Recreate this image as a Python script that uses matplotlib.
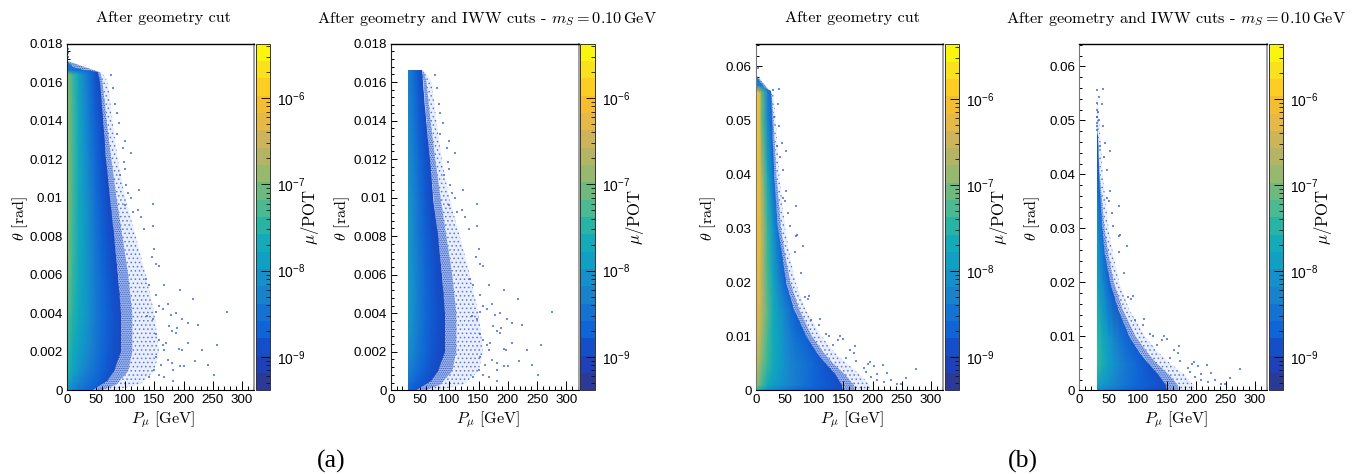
import matplotlib

matplotlib.use("Agg")
import matplotlib.pyplot as plt
import numpy as np
from matplotlib.cm import ScalarMappable
from matplotlib.colors import LinearSegmentedColormap, ListedColormap, LogNorm
from matplotlib.patches import Polygon
from matplotlib.ticker import FixedLocator, LogLocator, NullFormatter

plt.rcParams["font.family"] = ["Liberation Sans", "DejaVu Sans"]
plt.rcParams["mathtext.fontset"] = "cm"
plt.rcParams["hatch.linewidth"] = 0.6

W, H = 1357, 474

# z scale: 20 colour levels, bottom to top
band_colors = [
    (42, 58, 150), (30, 65, 185), (20, 78, 200), (15, 100, 215), (20, 115, 210),
    (25, 130, 205), (20, 145, 205), (15, 160, 195), (20, 170, 185), (40, 180, 165),
    (75, 185, 145), (110, 185, 125), (150, 185, 110), (180, 180, 100), (205, 180, 90),
    (230, 185, 70), (245, 190, 50), (253, 205, 35), (250, 225, 30), (250, 245, 15),
]
z_min, z_max = 4.1e-10, 4.3e-6

# heat values are colour levels read against the colour bar
p_a1 = [0, 5, 10, 20, 30, 40, 50, 60, 70, 80, 100, 120, 140]
theta_a1 = [0, .0004, .001, .002, .004, .006, .008, .010, .012, .014, .016, .0164, .0166, .0172]
level_a1 = [
    [6, 5.5, 5, 4, 3.5, 3, 2.5, 2, 1.5, 1.2, 1, 1, 1],
    [8, 7, 6, 5, 4.2, 3.5, 3, 2.2, 1.8, 1.5, 1, 1, 1],
    [9.5, 8.5, 7.5, 6.2, 5.2, 4.3, 3.5, 2.8, 2.2, 1.8, 1, 1, 1],
    [10, 9, 8, 7, 6, 5, 4, 3.2, 2.5, 2, 1, 1, 1],
    [11, 10, 9, 7.8, 6.8, 5.5, 4.3, 3.4, 2.7, 2.1, 1, 1, 1],
    [12, 10.8, 9.5, 8, 6.8, 5.5, 4.2, 3.2, 2.4, 1.8, 1, 1, 1],
    [12.5, 11, 9.8, 8, 6.8, 5.2, 3.9, 2.8, 2, 1.5, 1, 1, 1],
    [12.5, 11.2, 10, 8, 6.5, 5, 3.5, 2.4, 1.6, 1, 1, 1, 1],
    [12.5, 11.2, 10, 8, 6.2, 4.5, 3, 2, 1.2, 1, 1, 1, 1],
    [12.5, 11.2, 10, 7.8, 5.8, 4, 2.6, 1.5, 1, 1, 1, 1, 1],
    [12.5, 11, 9.8, 7.5, 5.3, 3.6, 2, 1.2, 1, 1, 1, 1, 1],
    [12.5, 11, 9.8, 7.5, 5.3, 3.6, 2, 1.2, 1, 1, 1, 1, 1],
    [5, 4.5, 4.2, 3.8, 3.5, 3, 2, 1, 1, 1, 1, 1, 1],
    [4, 4, 4, 4, 3, 3, 2, 1, 1, 1, 1, 1, 1],
]
p_a2 = [30, 40, 50, 60, 70, 80, 100, 120, 140]
theta_a2 = [0, .0004, .001, .002, .004, .006, .008, .010, .012, .014, .016, .0166]
level_a2 = [
    [3, 2.5, 2, 1.5, 1.2, 1, 1, 1, 1],
    [4, 3, 2.5, 2, 1.5, 1.2, 1, 1, 1],
    [5, 4, 3.2, 2.5, 2, 1.5, 1, 1, 1],
    [6, 4.8, 3.8, 3, 2.2, 1.8, 1, 1, 1],
    [7, 5.5, 4.2, 3.2, 2.5, 2, 1, 1, 1],
    [7, 5.5, 4.2, 3, 2.3, 1.6, 1, 1, 1],
    [6.8, 5.2, 3.8, 2.7, 2, 1.5, 1, 1, 1],
    [6.5, 5, 3.5, 2.3, 1.5, 1, 1, 1, 1],
    [6, 4.5, 3, 2, 1.2, 1, 1, 1, 1],
    [5.5, 4, 2.5, 1.5, 1, 1, 1, 1, 1],
    [5, 3.5, 2, 1.2, 1, 1, 1, 1, 1],
    [5, 3.5, 2, 1.2, 1, 1, 1, 1, 1],
]
p_b1 = [0, 5, 10, 20, 30, 40, 50, 60, 70, 80, 100, 120, 150, 190]
theta_b1 = [0, .001, .005, .010, .015, .020, .030, .040, .050, .0552, .0565, .059]
level_b1 = [
    [9, 8, 7, 5.5, 5, 4.5, 4, 3.5, 3, 2.8, 2.5, 2, 1.5, 1],
    [12.5, 11.5, 10, 8, 7, 6.2, 5.5, 5, 4.5, 4, 3, 2.5, 1.5, 1],
    [14.5, 13, 11.5, 9.5, 8, 7, 6, 5, 4.5, 4, 3, 2, 1.5, 1],
    [15.5, 14.5, 12.5, 10, 8, 7, 5.5, 4.5, 3.5, 3, 2, 1.5, 1, 1],
    [16, 15, 13.5, 10.5, 8, 6.5, 5, 3.5, 2.5, 2, 1.5, 1, 1, 1],
    [16.5, 15.5, 13.5, 10, 7.5, 5, 3, 1.5, 1, 1, 1, 1, 1, 1],
    [17, 16, 14, 9.5, 6, 3, 1, 1, 1, 1, 1, 1, 1, 1],
    [17.5, 16, 13, 8, 3.5, 1.5, 1, 1, 1, 1, 1, 1, 1, 1],
    [17.5, 16.5, 11, 5.5, 2, 1, 1, 1, 1, 1, 1, 1, 1, 1],
    [17.5, 16.5, 11, 5, 2, 1, 1, 1, 1, 1, 1, 1, 1, 1],
    [5, 5, 4.5, 4, 2, 1, 1, 1, 1, 1, 1, 1, 1, 1],
    [4, 4, 4, 3, 1, 1, 1, 1, 1, 1, 1, 1, 1, 1],
]
p_b2 = [30, 40, 50, 60, 70, 80, 100, 120, 150, 190]
theta_b2 = [0, .001, .005, .010, .020, .030, .040, .047, .049]
level_b2 = [
    [5.5, 5, 4.5, 4, 3.5, 3, 2.5, 2, 1.5, 1],
    [7, 6.5, 6, 5, 4.5, 4, 3, 2.5, 1.5, 1],
    [9.8, 8.5, 7, 6, 5, 4.2, 3, 2, 1.5, 1],
    [9.5, 8, 6.5, 5, 4, 3, 2, 1.5, 1, 1],
    [7.5, 5.5, 3, 1.5, 1, 1, 1, 1, 1, 1],
    [6.5, 3, 1, 1, 1, 1, 1, 1, 1, 1],
    [3, 1.5, 1, 1, 1, 1, 1, 1, 1, 1],
    [2, 1, 1, 1, 1, 1, 1, 1, 1, 1],
    [1.5, 1, 1, 1, 1, 1, 1, 1, 1, 1],
]

# outline of the filled part and of the speckled fringe (dense, then thin)
edge_theta_a1 = [0, .0002, .0005, .001, .002, .004, .006, .008, .010, .012, .014, .016, .0165, .0166, .0168, .0171]
edge_p_a1 = [45, 55, 68, 80, 92, 92, 88, 80, 73, 67, 61, 56, 54, 30, 10, 0]
edge_theta_a2 = [0, .0002, .0005, .001, .002, .004, .006, .008, .010, .012, .014, .016, .0166]
edge_p_a2 = [45, 55, 68, 80, 92, 92, 88, 80, 73, 67, 61, 56, 54]
fringe_theta_a = [0, .0003, .001, .002, .004, .006, .008, .010, .012, .014, .016, .0165]
dense_p_a = [60, 85, 105, 112, 112, 105, 95, 85, 76, 68, 61, 57]
thin_p_a = [80, 125, 150, 158, 150, 135, 118, 100, 87, 78, 70, 60]

edge_theta_b1 = [0, .001, .003, .005, .007, .010, .015, .020, .025, .030, .040, .050, .0555, .056, .057, .0585]
edge_p_b1 = [150, 148, 135, 118, 104, 85, 66, 52, 44, 38, 31, 27, 25, 15, 8, 0]
edge_theta_b2 = [0, .001, .003, .005, .007, .010, .015, .020, .025, .030, .040, .047, .048]
edge_p_b2 = [150, 148, 135, 118, 104, 85, 66, 52, 44, 38, 33, 32, 30]
fringe_theta_b = [0, .001, .003, .005, .007, .010, .015, .020, .025, .030, .040, .050, .055]
dense_p_b = [170, 168, 152, 132, 116, 96, 74, 59, 50, 43, 35, 30, 27]
thin_p_b = [195, 195, 178, 155, 135, 112, 85, 68, 58, 50, 40, 34, 30]

# single scattered cells
sparse_p_a = [
    275, 217, 194, 257, 225, 232, 242, 252, 219, 207, 198, 207, 187, 178, 173, 167, 150, 146, 158, 153,
    201, 194, 182, 182, 167, 158, 193, 197, 189, 187, 181, 175, 164, 158, 153, 141, 135, 181, 173, 164,
    167, 153, 161, 150, 140, 153, 158, 170, 147, 153, 138, 148, 123, 110, 99, 96, 100, 101, 122, 127,
    148, 133, 113, 110, 90, 85, 83, 76, 79, 85, 97, 91, 104, 99, 2, 1, 2,
]
sparse_theta_a = [
    .00407, .00472, .00519, .00235, .00337, .00207, .00132, .00082, .00154, .00244, .00368, .00351, .004,
    .0039, .00446, .00547, .00733, .00693, .00646, .00653, .00128, .00128, .00105, .00049, .0007, .00079,
    .00214, .00207, .00325, .00298, .00307, .00333, .00421, .00439, .00495, .00544, .00579, .0014, .00158,
    .00237, .0021, .0029, .0013, .00105, .0007, .00175, .00263, .00245, .00368, .00404, .00386, .00967,
    .0104, .01232, .01296, .0126, .0115, .01065, .00937, .00897, .00855, .00838, .00928, .00997, .01386,
    .01441, .01484, .01638, .01569, .0133, .01185, .01116, .01022, .00962, .0177, .0175, .0173,
]
sparse_p_b = [
    275, 257, 249, 242, 232, 225, 218, 202, 208, 207, 219, 195, 193, 170, 168, 144, 149, 110, 121, 91,
    84, 81, 70, 77, 67, 89, 95, 109, 126, 132, 141, 155, 161, 172, 186, 198, 189, 4, 40, 30,
    38, 44, 52, 42, 47, 52, 68, 55, 58, 68, 36, 40, 31, 47, 50,
]
sparse_theta_b = [
    .00398, .00224, .00118, .00112, .00193, .00317, .0046, .00441, .00304, .00193, .00161, .00516, .00491,
    .00814, .0069, .01, .0095, .01329, .0105, .01745, .01727, .02677, .02876, .0218, .02553, .01683, .01298,
    .01217, .01, .00845, .00938, .00596, .00752, .00534, .0041, .00255, .00348, .0598, .0559, .0557, .0531,
    .0459, .0443, .0433, .0409, .0369, .0341, .0328, .0304, .0286, .0452, .0489, .0507, .0356, .035,
]
top_p_b2 = [34, 30, 31, 31, 31, 30, 32, 33, 31]
top_theta_b2 = [.0544, .0532, .052, .0507, .0495, .0483, .0515, .0500, .0490]

p_ticks = [0, 50, 100, 150, 200, 250, 300]
p_tick_labels = ["0", "50", "100", "150", "200", "250", "300"]
theta_ticks_a = [0, .002, .004, .006, .008, .01, .012, .014, .016, .018]
theta_labels_a = ["0", "0.002", "0.004", "0.006", "0.008", "0.01", "0.012", "0.014", "0.016", "0.018"]
theta_ticks_b = [0, .01, .02, .03, .04, .05, .06]
theta_labels_b = ["0", "0.01", "0.02", "0.03", "0.04", "0.05", "0.06"]

title_left = "After geometry cut"
title_right = r"After geometry and IWW cuts - $m_S = 0.10\,\mathrm{GeV}$"

colors01 = [tuple(c / 255 for c in rgb) for rgb in band_colors]
heat_cmap = LinearSegmentedColormap.from_list("heat", colors01, N=256)
bar_cmap = ListedColormap(colors01)
bar_norm = LogNorm(z_min, z_max)


def px_axes(left, right, top, bottom):
    return fig.add_axes([left / W, 1 - bottom / H, (right - left) / W, (bottom - top) / H])


def draw_panel(left, right, top, p, theta, levels, edge_p, edge_theta, fringe_theta, dense_p, thin_p,
               spar_p, spar_theta, p_floor, y_top, y_ticks, y_labels, y_minor, title, ylabel_x, spine_col):
    ax = px_axes(left, right, top, 390.3)
    ax.set_xlim(0, 321)
    ax.set_ylim(0, y_top)

    pp, tt = np.meshgrid(p, theta)
    mesh = ax.pcolormesh(pp, tt, np.array(levels) + 0.3, cmap=heat_cmap, vmin=0, vmax=20,
                         shading="gouraud", zorder=2)
    outline = list(zip(edge_p, edge_theta)) + [(p_floor, edge_theta[-1]), (p_floor, 0)]
    mesh.set_clip_path(Polygon(outline, closed=True, transform=ax.transData))

    # speckled bands outside the filled part, a pale wash under the dots
    dense = [(a, b) for a, b in zip(dense_p, fringe_theta) if a >= p_floor]
    thin = [(a, b) for a, b in zip(thin_p, fringe_theta) if a >= p_floor]
    dense_band = list(zip(edge_p, edge_theta)) + dense[::-1]
    thin_band = dense + thin[::-1]
    ax.add_patch(Polygon(dense_band, closed=True, facecolor="#2f5fd0", alpha=0.4, linewidth=0, zorder=1))
    ax.add_patch(Polygon(thin_band, closed=True, facecolor="#2f5fd0", alpha=0.1, linewidth=0, zorder=1))
    ax.add_patch(Polygon(dense_band, closed=True, fill=False, hatch=".........", edgecolor="#2450c4",
                         linewidth=0, zorder=1))
    ax.add_patch(Polygon(thin_band, closed=True, fill=False, hatch="....", edgecolor="#3a66d8",
                         linewidth=0, alpha=0.8, zorder=1))

    spar_p = np.array(spar_p)
    spar_theta = np.array(spar_theta)
    keep = spar_p >= p_floor
    ax.scatter(spar_p[keep], spar_theta[keep], s=2, marker="s", color="#3a66d8", alpha=0.75,
               linewidths=0, zorder=3)

    ax.xaxis.set_major_locator(FixedLocator(p_ticks))
    ax.xaxis.set_minor_locator(FixedLocator(np.arange(0, 321, 10)))
    ax.set_xticklabels(p_tick_labels)
    ax.yaxis.set_major_locator(FixedLocator(y_ticks))
    ax.yaxis.set_minor_locator(FixedLocator(y_minor))
    ax.set_yticklabels(y_labels)
    ax.tick_params(axis="x", which="major", direction="in", length=6.2, width=0.7, labelsize=9.6, pad=3)
    ax.tick_params(axis="x", which="minor", direction="in", length=3, width=0.7)
    ax.tick_params(axis="y", which="major", direction="in", length=4.5, width=0.7, labelsize=9.6, pad=3)
    ax.tick_params(axis="y", which="minor", direction="in", length=2.3, width=0.7)

    ax.spines["right"].set_color("#999999")
    ax.spines["right"].set_linewidth(1.3)
    ax.spines["left"].set_color(spine_col)
    ax.spines["top"].set_linewidth(1.0)
    for spine in ax.spines.values():
        spine.set_zorder(5)

    cx = (left + right) / 2
    fig.text((cx + 2.5) / W, 1 - 18 / H, title, ha="center", va="center", family="cmr10", fontsize=11.7)
    fig.text((cx + 3) / W, 1 - 420 / H, r"$P_\mu$ [GeV]", ha="center", va="center", family="cmr10", fontsize=11.6)
    fig.text(ylabel_x / W, 1 - 218 / H, r"$\theta$ [rad]", ha="center", va="center", rotation=90,
             family="cmr10", fontsize=11.6)

    cax = px_axes(right + 1.5, right + 16, top, 390.3)
    cb = fig.colorbar(ScalarMappable(norm=bar_norm, cmap=bar_cmap), cax=cax)
    cb.outline.set_edgecolor("#333333")
    cb.outline.set_linewidth(0.7)
    cax.yaxis.set_minor_locator(LogLocator(base=10, subs=np.arange(2, 10), numticks=12))
    cax.yaxis.set_minor_formatter(NullFormatter())
    cb.set_ticks([1e-9, 1e-8, 1e-7, 1e-6])
    cb.set_ticklabels([r"$\mathregular{10^{-9}}$", r"$\mathregular{10^{-8}}$",
                       r"$\mathregular{10^{-7}}$", r"$\mathregular{10^{-6}}$"])
    cax.tick_params(axis="y", which="major", direction="in", length=6.5, width=0.7, labelsize=10, pad=5, color="#111111")
    cax.tick_params(axis="y", which="minor", direction="in", length=3.2, width=0.6, color="#111111")
    fig.text((right + 56) / W, 1 - 217 / H, r"$\mu$/POT", ha="center", va="center", rotation=90,
             family="cmr10", fontsize=12)
    return ax


fig = plt.figure(figsize=(W / 100, H / 100), dpi=100)

minor_a = np.arange(0, .0181, .0004)
minor_b = np.arange(0, .0641, .002)

draw_panel(67, 254, 43.5, p_a1, theta_a1, level_a1, edge_p_a1, edge_theta_a1, fringe_theta_a, dense_p_a, thin_p_a,
           sparse_p_a, sparse_theta_a, 0, .018, theta_ticks_a, theta_labels_a, minor_a, title_left, 20, "#222222")
draw_panel(390.7, 578.7, 43.5, p_a2, theta_a2, level_a2, edge_p_a2, edge_theta_a2, fringe_theta_a, dense_p_a, thin_p_a,
           sparse_p_a, sparse_theta_a, 30, .018, theta_ticks_a, theta_labels_a, minor_a, title_right, 342, "#222222")
draw_panel(756, 943, 44.3, p_b1, theta_b1, level_b1, edge_p_b1, edge_theta_b1, fringe_theta_b, dense_p_b, thin_p_b,
           sparse_p_b, sparse_theta_b, 0, .0641, theta_ticks_b, theta_labels_b, minor_b, title_left, 708, "#777777")
draw_panel(1079.3, 1267.3, 44.3, p_b2, theta_b2, level_b2, edge_p_b2, edge_theta_b2, fringe_theta_b, dense_p_b, thin_p_b,
           sparse_p_b + top_p_b2, sparse_theta_b + top_theta_b2, 30, .0641, theta_ticks_b, theta_labels_b, minor_b,
           title_right, 1032, "#777777")

fig.text(331 / W, 1 - 461 / H, "(a)", ha="center", va="center", family="Liberation Serif", fontsize=18.5)
fig.text(1023 / W, 1 - 461 / H, "(b)", ha="center", va="center", family="Liberation Serif", fontsize=18.5)

fig.savefig("out.png", dpi=100)
